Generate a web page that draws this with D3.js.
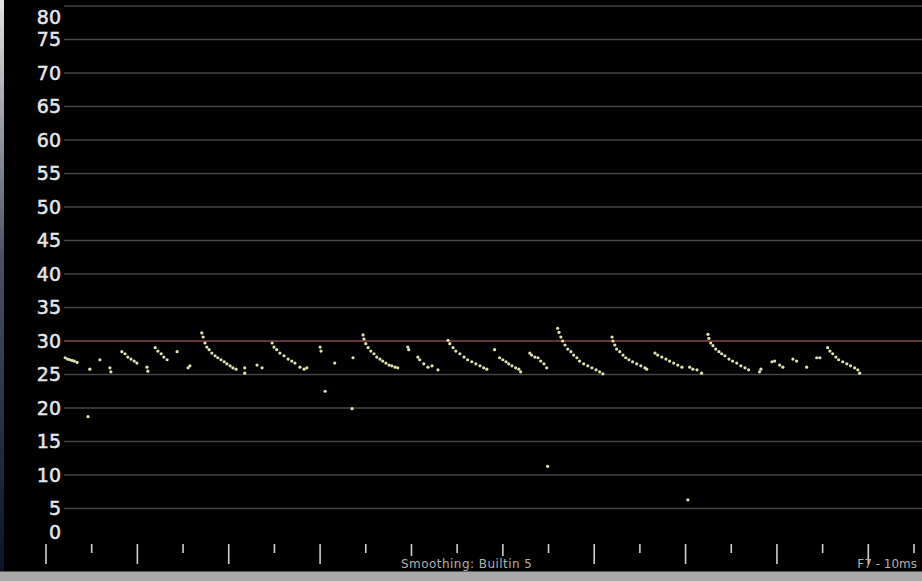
<!DOCTYPE html>
<html>
<head>
<meta charset="utf-8">
<script src="https://cdn.jsdelivr.net/npm/d3@7"></script>
<style>
  html, body { margin: 0; padding: 0; background: #fff; }
  svg { display: block; }
</style>
</head>
<body>
<div id="chart"></div>
<script>
// frame rate samples, [seconds, fps]
const frameSamples = [
  [0.42, 27.5], [0.47, 27.3], [0.52, 27.2], [0.57, 27.1], [0.62, 27.0], [0.68, 26.8],
  [0.96, 25.8], [1.18, 27.2], [1.40, 26.0], [1.42, 25.4],
  [1.66, 28.4], [1.73, 28.1], [1.79, 27.6], [1.86, 27.3], [1.93, 27.0], [1.99, 26.7],
  [2.21, 26.1], [2.23, 25.5],
  [2.39, 29.0], [2.45, 28.5], [2.52, 28.1], [2.58, 27.6], [2.65, 27.2],
  [2.87, 28.4], [3.11, 26.0], [3.15, 26.3],
  [3.41, 31.2], [3.44, 30.6], [3.48, 29.7], [3.52, 29.1], [3.57, 28.7], [3.63, 28.2],
  [3.70, 27.8], [3.76, 27.5], [3.83, 27.2], [3.90, 26.9], [3.96, 26.6], [4.03, 26.3],
  [4.09, 26.0], [4.16, 25.8],
  [4.35, 26.0], [4.35, 25.2], [4.62, 26.4], [4.73, 26.0],
  [4.95, 29.7], [4.99, 29.1], [5.05, 28.7], [5.12, 28.2], [5.21, 27.8], [5.30, 27.3],
  [5.38, 27.0], [5.45, 26.7],
  [5.56, 26.1], [5.65, 25.8], [5.71, 26.0],
  [6.00, 29.1], [6.02, 28.5], [6.32, 26.7], [6.72, 27.5],
  [6.94, 30.9], [6.96, 30.3], [7.00, 29.6], [7.05, 29.0], [7.11, 28.5], [7.18, 28.1],
  [7.24, 27.6], [7.31, 27.3], [7.37, 27.0], [7.44, 26.7], [7.51, 26.4], [7.57, 26.3],
  [7.64, 26.1], [7.70, 26.0],
  [7.92, 29.1], [7.94, 28.7],
  [8.14, 27.6], [8.18, 27.2], [8.27, 26.6], [8.36, 26.1], [8.45, 26.3], [8.58, 25.7],
  [8.80, 30.1], [8.84, 29.6], [8.91, 29.0], [8.97, 28.5], [9.06, 28.1], [9.15, 27.6],
  [9.23, 27.2], [9.32, 26.9], [9.41, 26.6], [9.50, 26.3], [9.58, 26.0], [9.65, 25.8],
  [9.82, 28.7],
  [9.93, 27.5], [10.00, 27.2], [10.07, 26.9], [10.13, 26.6], [10.20, 26.3], [10.28, 26.0],
  [10.35, 25.8], [10.39, 25.4],
  [10.59, 28.2], [10.63, 27.9], [10.70, 27.6], [10.77, 27.5], [10.83, 27.0], [10.90, 26.6],
  [10.96, 26.0],
  [11.20, 31.9], [11.23, 31.3], [11.27, 30.6], [11.31, 30.0], [11.36, 29.4], [11.42, 28.8],
  [11.49, 28.4], [11.55, 27.9], [11.62, 27.5], [11.68, 27.0], [11.77, 26.6], [11.86, 26.3],
  [11.95, 26.0], [12.04, 25.7], [12.12, 25.4], [12.19, 25.1],
  [12.39, 30.6], [12.41, 30.0], [12.45, 29.4], [12.49, 28.8], [12.56, 28.4], [12.63, 27.9],
  [12.69, 27.5], [12.76, 27.2], [12.84, 26.9], [12.93, 26.6], [13.02, 26.3], [13.11, 26.0],
  [13.15, 25.8],
  [13.33, 28.2], [13.39, 27.9], [13.48, 27.6], [13.57, 27.3], [13.65, 27.0], [13.74, 26.7],
  [13.83, 26.4], [13.92, 26.1],
  [14.09, 26.1], [14.16, 25.8], [14.25, 25.7], [14.35, 25.2],
  [14.49, 31.0], [14.51, 30.4], [14.55, 29.7], [14.60, 29.3], [14.66, 28.8], [14.73, 28.4],
  [14.79, 28.1], [14.86, 27.8], [14.95, 27.3], [15.03, 27.0], [15.12, 26.7], [15.21, 26.3],
  [15.30, 26.0], [15.38, 25.7],
  [15.62, 25.4], [15.65, 25.8],
  [15.89, 26.9], [15.95, 27.0], [16.06, 26.4], [16.13, 26.1],
  [16.35, 27.3], [16.43, 27.0], [16.65, 26.1], [16.87, 27.5], [16.94, 27.5],
  [17.11, 29.0], [17.16, 28.5], [17.22, 28.1], [17.29, 27.6], [17.35, 27.2], [17.44, 26.9],
  [17.53, 26.6], [17.61, 26.3], [17.70, 26.0], [17.77, 25.7], [17.81, 25.2]
]

// isolated hitches well below the band
const hitches = [
  [0.92, 18.7], [6.11, 22.5], [6.70, 19.9], [10.98, 11.3], [14.05, 6.3]
]

const yTicks = [0, 5, 10, 15, 20, 25, 30, 35, 40, 45, 50, 55, 60, 65, 70, 75, 80]
const timeTicks = d3.range(0, 20)
const targetFps = 30
const footerLeft = 'Smoothing: Builtin 5'
const footerRight = 'F7 - 10ms'

const width = 922
const height = 581

const svg = d3.select('#chart').append('svg')
  .attr('width', width)
  .attr('height', height)

const defs = svg.append('defs')
const edge = defs.append('linearGradient')
  .attr('id', 'edge')
  .attr('x1', 0).attr('y1', 0).attr('x2', 0).attr('y2', 1)
edge.append('stop').attr('offset', 0).attr('stop-color', '#e4e4e4')
edge.append('stop').attr('offset', 0.45).attr('stop-color', '#4a5262')
edge.append('stop').attr('offset', 1).attr('stop-color', '#0a1422')

svg.append('rect')
  .attr('x', 0).attr('y', 0)
  .attr('width', width).attr('height', height)
  .attr('fill', '#000')
svg.append('rect')
  .attr('x', 0).attr('y', 0)
  .attr('width', 4).attr('height', 571)
  .attr('fill', 'url(#edge)')

const x = d3.scaleLinear().domain([0, 19]).range([46, 914])
const y = d3.scaleLinear().domain([0, 80]).range([542, 6])

// grid
svg.append('g')
  .selectAll('line')
  .data(yTicks.filter((d) => d > 0))
  .join('line')
  .attr('x1', 64)
  .attr('x2', width)
  .attr('y1', (d) => y(d))
  .attr('y2', (d) => y(d))
  .attr('stroke', '#464646')
  .attr('stroke-width', 1.5)

svg.append('line')
  .attr('x1', 64)
  .attr('x2', width)
  .attr('y1', y(targetFps))
  .attr('y2', y(targetFps))
  .attr('stroke', '#763434')
  .attr('stroke-width', 1.6)

// y labels, the end ones get pushed inside the frame
svg.append('g')
  .selectAll('text')
  .data(yTicks)
  .join('text')
  .attr('x', 61)
  .attr('y', (d) => Math.min(532, Math.max(17, y(d))))
  .attr('dy', '0.36em')
  .attr('text-anchor', 'end')
  .attr('fill', '#e6e6e6')
  .attr('stroke', '#e6e6e6')
  .attr('stroke-width', 0.5)
  .attr('font-family', 'DejaVu Sans, sans-serif')
  .attr('font-size', 19)
  .text((d) => d)

// time ticks
svg.append('g')
  .selectAll('line')
  .data(timeTicks)
  .join('line')
  .attr('x1', (d) => x(d))
  .attr('x2', (d) => x(d))
  .attr('y1', 544)
  .attr('y2', (d) => (d % 2 === 0 ? 564 : 553))
  .attr('stroke', '#cfcfcf')
  .attr('stroke-width', 1.6)

// samples
const dotColor = '#e2e2b0'
svg.append('g')
  .selectAll('circle')
  .data(frameSamples.concat(hitches))
  .join('circle')
  .attr('cx', (d) => x(d[0]))
  .attr('cy', (d) => y(d[1]))
  .attr('r', 1.6)
  .attr('fill', dotColor)

// footer
svg.append('rect')
  .attr('x', 398).attr('y', 556)
  .attr('width', 138).attr('height', 14)
  .attr('fill', '#000')
svg.append('text')
  .attr('x', 401)
  .attr('y', 568)
  .attr('fill', '#b0b0b0')
  .attr('font-family', 'DejaVu Sans, sans-serif')
  .attr('font-size', 12)
  .attr('textLength', 131)
  .text(footerLeft)
svg.append('text')
  .attr('x', 917)
  .attr('y', 568)
  .attr('text-anchor', 'end')
  .attr('fill', '#b0b0b0')
  .attr('font-family', 'DejaVu Sans, sans-serif')
  .attr('font-size', 12)
  .text(footerRight)

svg.append('rect')
  .attr('x', 0).attr('y', 571)
  .attr('width', width).attr('height', 10)
  .attr('fill', '#a9a9a9')
svg.append('line')
  .attr('x1', 0).attr('x2', width)
  .attr('y1', 571.5).attr('y2', 571.5)
  .attr('stroke', '#5a5a5a')
</script>
</body>
</html>
